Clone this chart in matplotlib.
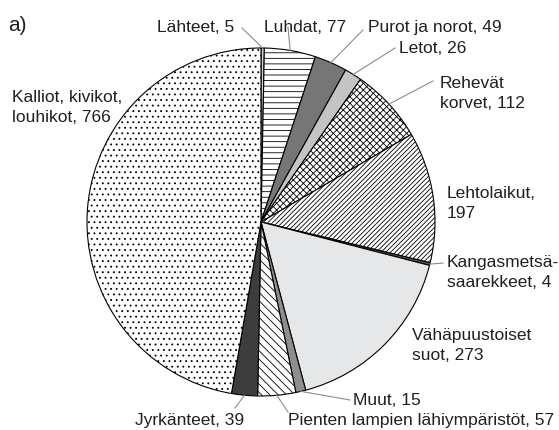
import matplotlib
matplotlib.use("Agg")
import matplotlib.pyplot as plt
import numpy as np

# data, clockwise from 12 o'clock
labels = ["Lähteet, 5", "Luhdat, 77", "Purot ja norot, 49", "Letot, 26",
          "Rehevät\nkorvet, 112", "Lehtolaikut,\n197", "Kangasmetsä-\nsaarekkeet, 4",
          "Vähäpuustoiset\nsuot, 273", "Muut, 15", "Pienten lampien lähiympäristöt, 57",
          "Jyrkänteet, 39", "Kalliot, kivikot,\nlouhikot, 766"]
values = [5, 77, 49, 26, 112, 197, 4, 273, 15, 57, 39, 766]

colors = ["#d0d0d0", "white", "#767676", "#c4c4c4", "white", "white",
          "#555555", "#e6e7e8", "#8e8e8e", "white", "#3d3d3d", "white"]
hatches = [None, "---", None, None, "xxxxx", "///////", None, None, None, "\\\\\\\\", None, "..."]

# label placement in pixel coords (x, baseline y from top), leader end or None
text_pos = [(157, 32), (264, 32), (368, 32), (399, 53), (440, 88), (447, 198),
            (447, 267), (412, 340), (353, 405), (288, 425), (135, 425), (12, 102)]
leader_end = [(242, 28), (288, 27), (363, 30), (395, 48), (433, 81), None,
              (443, 263), None, (350, 400), (288, 412), (235, 408), None]

H = 430
cx, cy, r = 261, 222, 174

plt.rcParams["font.family"] = ["Liberation Sans", "DejaVu Sans"]
plt.rcParams["hatch.linewidth"] = 0.6
plt.rcParams["hatch.color"] = "black"

fig = plt.figure(figsize=(5.59, 4.30), dpi=100)
ax = fig.add_axes([0, 0, 1, 1])

wedges, _ = ax.pie(values, colors=colors, startangle=90, counterclock=False,
                   center=(cx, H - cy), radius=r,
                   wedgeprops=dict(edgecolor="black", linewidth=0.8))
for w, h in zip(wedges, hatches):
    if h:
        w.set_hatch(h)

ax.set_xlim(0, 559)
ax.set_ylim(0, H)
ax.set_aspect("equal")
ax.axis("off")

total = sum(values)
cum = np.cumsum([0] + values)
for i, lab in enumerate(labels):
    tx, ty = text_pos[i]
    # one text per line so every baseline sits where it should
    for k, line in enumerate(lab.split("\n")):
        ax.text(tx, H - ty - k * 20, line, fontsize=12.5,
                ha="left", va="baseline", color="#231f20")
    if leader_end[i] is not None:
        mid = (cum[i] + cum[i + 1]) / 2 / total * 2 * np.pi
        x0 = cx + r * np.sin(mid)
        y0 = cy - r * np.cos(mid)
        ex, ey = leader_end[i]
        ax.plot([x0, ex], [H - y0, H - ey], color="#8c8c8c", lw=0.8)

ax.text(8, H - 31, "a)", fontsize=15, ha="left", va="baseline", color="#231f20")

fig.savefig("out.png", dpi=100)
